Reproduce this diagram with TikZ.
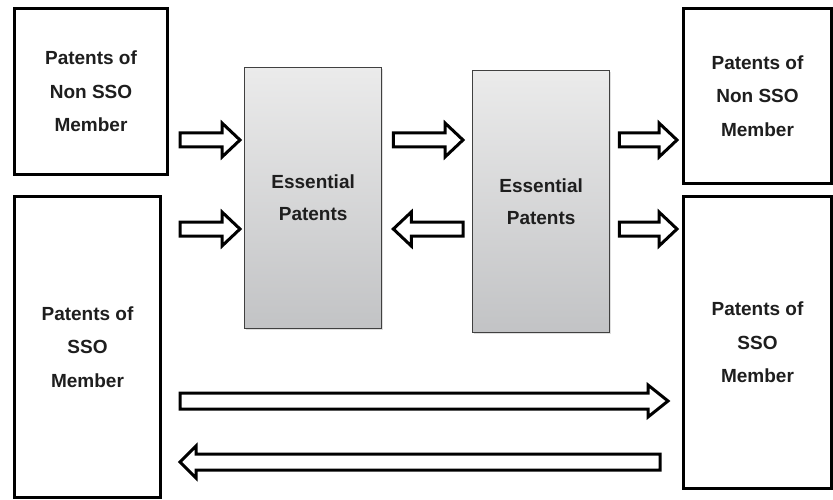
\documentclass[tikz,border=0pt]{standalone}
\usepackage{fontspec}
\setmainfont{Liberation Sans}
\usetikzlibrary{calc,shadows}

\definecolor{txt}{HTML}{1E1E1E}
\definecolor{esstop}{HTML}{EBEBEB}
\definecolor{essbot}{HTML}{C2C3C5}
\definecolor{essline}{HTML}{404040}

\tikzset{
  party/.style={draw=black, line width=3pt, fill=white, anchor=north west,
    inner sep=0pt, align=center, text=txt,
    font=\fontsize{19}{33.5}\selectfont\bfseries},
  essential/.style={draw=essline, line width=1.3pt, top color=esstop,
    bottom color=essbot, anchor=north west, inner sep=0pt, align=center,
    text=txt, font=\fontsize{19}{32}\selectfont\bfseries,
    drop shadow={shadow xshift=1pt, shadow yshift=-1.5pt, opacity=0.25}},
  hollow/.style={draw=black, line width=3pt, fill=white, line join=miter},
}

% Hollow horizontal block arrow from #1 to #2 (shaft half-height #3, head half-height #4, head length #5)
\newcommand\blockarrow[5]{%
  \draw[hollow] let \p1=(#1), \p2=(#2), \n1={ifthenelse(\x2>\x1,1,-1)} in
    (\x1,{\y1+#3}) -- ({\x2-\n1*#5},{\y1+#3}) -- ({\x2-\n1*#5},{\y1+#4})
    -- (\x2,\y1) -- ({\x2-\n1*#5},{\y1-#4}) -- ({\x2-\n1*#5},{\y1-#3})
    -- (\x1,{\y1-#3}) -- cycle;}

\begin{document}
\begin{tikzpicture}[x=1pt,y=-1pt]
  \useasboundingbox (0,0) rectangle (833,500);

  % parties
  \node[party, minimum width=153pt, minimum height=166pt] (A) at (13,7)
    {Patents of\\Non SSO\\Member};
  \node[party, minimum width=146pt, minimum height=301pt] (B) at (13,195)
    {Patents of\\SSO\\Member};
  \node[party, minimum width=148pt, minimum height=175pt] (C) at (682,7)
    {Patents of\\Non SSO\\Member};
  \node[party, minimum width=148pt, minimum height=292pt] (D) at (682,195)
    {Patents of\\SSO\\Member};

  % pools of essential patents
  \node[essential, minimum width=137pt, minimum height=261pt] (E1) at (244,67)
    {Essential\\Patents};
  \node[essential, minimum width=137pt, minimum height=262pt] (E2) at (472,70)
    {Essential\\Patents};

  % arrow rows
  \coordinate (r1) at (0,140);
  \coordinate (r2) at (0,229);
  \coordinate (r3) at (0,401);
  \coordinate (r4) at (0,462);

  \blockarrow{$(A.east |- r1)+(11,0)$}{$(E1.west |- r1)+(-4,0)$}{7pt}{17pt}{18pt}
  \blockarrow{$(B.east |- r2)+(18,0)$}{$(E1.west |- r2)+(-4,0)$}{7pt}{17pt}{18pt}
  \blockarrow{$(E1.east |- r1)+(11,0)$}{$(E2.west |- r1)+(-9,0)$}{7pt}{17pt}{18pt}
  \blockarrow{$(E2.west |- r2)+(-9,0)$}{$(E1.east |- r2)+(11,0)$}{7pt}{17pt}{18pt}
  \blockarrow{$(E2.east |- r1)+(9,0)$}{$(C.west |- r1)+(-5,0)$}{7pt}{17pt}{18pt}
  \blockarrow{$(E2.east |- r2)+(9,0)$}{$(D.west |- r2)+(-5,0)$}{7pt}{17pt}{18pt}
  \blockarrow{$(B.east |- r3)+(18,0)$}{$(D.west |- r3)+(-14,0)$}{8pt}{16pt}{20pt}
  \blockarrow{$(D.west |- r4)+(-22,0)$}{$(B.east |- r4)+(18,0)$}{8pt}{16pt}{16pt}
\end{tikzpicture}
\end{document}
